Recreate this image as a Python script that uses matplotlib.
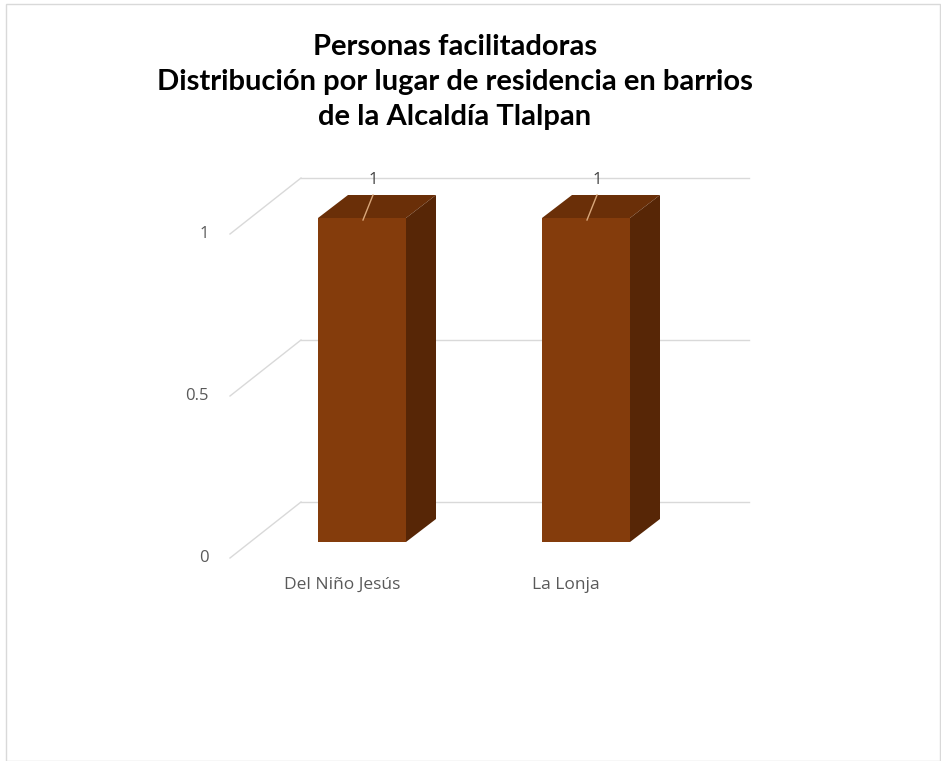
import matplotlib.pyplot as plt
from matplotlib.patches import Polygon, Rectangle

categories = ["Del Niño Jesús", "La Lonja"]
values = [1, 1]
yticks = [0, 0.5, 1]
ytick_labels = ["0", "0.5", "1"]
title = "Personas facilitadoras\nDistribución por lugar de residencia en barrios\nde la Alcaldía Tlalpan"

front = "#843c0c"
top = "#6a2f08"
side = "#572606"
grid = "#d9d9d9"
text_col = "#595959"

plt.rcParams['font.family'] = ['Open Sans', 'DejaVu Sans']

fig = plt.figure(figsize=(9.41, 7.61), dpi=100)
ax = fig.add_axes([250 / 941, 219 / 761, 448 / 941, 324 / 761])
ax.set_xlim(-0.5, 1.5)
ax.set_ylim(0, 1)
ax.axis("off")

# pixel -> data conversion for the fake 3d depth
sx = 2.0 / 448
sy = 1.0 / 324
back = (51 * sx, 40 * sy)       # back wall offset from bar front plane
fr = (-20 * sx, -16 * sy)       # front (label) plane offset
depth = (30 * sx, 23 * sy)      # bar depth
w = 88 * sx

# gridlines on back wall + diagonal on the left wall
for v in yticks:
    ax.plot([-0.5 + back[0], 1.5 + back[0]], [v + back[1], v + back[1]],
            color=grid, lw=1, clip_on=False, zorder=1)
    ax.plot([-0.5 + back[0], -0.5 + fr[0]], [v + back[1], v + fr[1]],
            color=grid, lw=1, clip_on=False, zorder=1)

for v, lab in zip(yticks, ytick_labels):
    ax.text(-0.5 + fr[0] - 21 * sx, v + fr[1], lab, ha="right", va="center",
            fontsize=12, color=text_col, clip_on=False)

xs = list(range(len(categories)))
ax.bar(xs, values, width=w, color=front, zorder=3)

for x, v, cat in zip(xs, values, categories):
    l, r = x - w / 2, x + w / 2
    ax.add_patch(Polygon([(l, v), (r, v), (r + depth[0], v + depth[1]),
                          (l + depth[0], v + depth[1])],
                         closed=True, facecolor=top, edgecolor="none", zorder=3, clip_on=False))
    ax.add_patch(Polygon([(r, 0), (r, v), (r + depth[0], v + depth[1]),
                          (r + depth[0], depth[1])],
                         closed=True, facecolor=side, edgecolor="none", zorder=3, clip_on=False))
    # data label with leader line
    ax.plot([x + 1 * sx, x + 11 * sx], [v - 2 * sy, v + 23 * sy],
            color="#d9a77a", lw=1, zorder=4, clip_on=False)
    ax.text(x + 11 * sx, v + 38 * sy, str(v), ha="center", va="center",
            fontsize=12, color="#404040", clip_on=False)
    ax.text(x + fr[0], fr[1] - 27 * sy, cat, ha="center", va="center",
            fontsize=12.5, color=text_col, clip_on=False)

fig.text(455 / 941, 1 - 82 / 761, title, ha="center", va="center",
         fontsize=21, fontweight="bold", color="#000000", linespacing=1.42,
         family=["Lato", "DejaVu Sans"])

fig.patches.append(Rectangle((6 / 941, 0), 934 / 941, 757 / 761, transform=fig.transFigure,
                             fill=False, edgecolor=grid, lw=1))

fig.savefig("out.png", dpi=100)
